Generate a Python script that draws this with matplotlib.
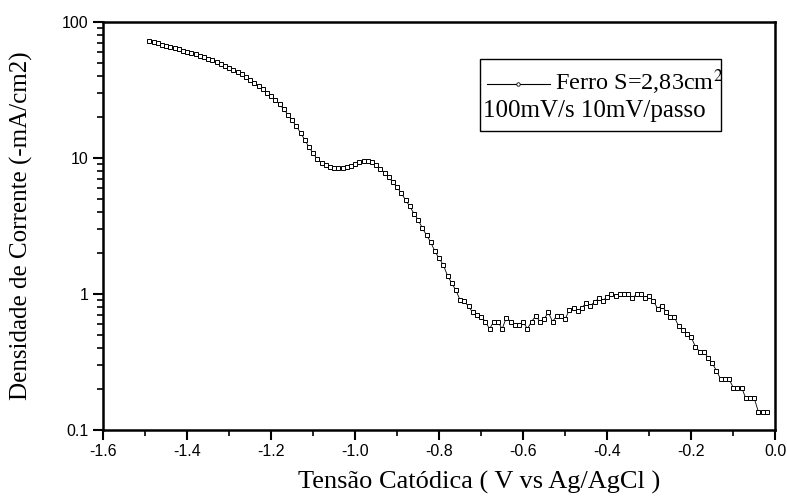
import numpy as np
import matplotlib
matplotlib.use("Agg")
import matplotlib.pyplot as plt
from matplotlib.ticker import FixedLocator, FixedFormatter, MultipleLocator, NullFormatter
from matplotlib.lines import Line2D
from matplotlib.patches import Rectangle

plt.rcParams['axes.unicode_minus'] = False

# potential grid: -1.49 V to -0.02 V, 10 mV per step
v_start, v_stop, v_step = -1.49, -0.02, 0.01
potential = np.round(np.arange(v_start, v_stop + v_step / 2, v_step), 2)

# current density (-mA/cm2)
current = [
    72.5, 71, 69.5, 68, 67, 65.5, 64.5, 63, 61.5, 60.5,
    59.5, 58, 56.5, 55, 53.5, 52, 50.5, 49, 47.5, 46,
    44.5, 43, 41.5, 39.5, 37.5, 35.5, 33.5, 32, 30, 28.5,
    26.8, 24.8, 22.8, 20.8, 18.9, 17.1, 15.3, 13.6, 12.0, 10.8,
    9.8, 9.2, 8.8, 8.5, 8.4, 8.4, 8.4, 8.5, 8.7, 9.0,
    9.3, 9.5, 9.5, 9.3, 8.8, 8.3, 7.8, 7.2, 6.6, 6.1,
    5.5, 4.9, 4.4, 3.9, 3.5, 3.05, 2.7, 2.4, 2.05, 1.83,
    1.63, 1.36, 1.2, 1.06, 0.90, 0.88, 0.81, 0.73, 0.70, 0.68,
    0.625, 0.553, 0.625, 0.625, 0.553, 0.67, 0.625, 0.59, 0.59, 0.625,
    0.553, 0.625, 0.69, 0.625, 0.655, 0.73, 0.625, 0.69, 0.69, 0.655,
    0.76, 0.79, 0.75, 0.79, 0.86, 0.82, 0.87, 0.93, 0.89, 0.955,
    0.995, 0.97, 0.995, 0.995, 0.995, 0.93, 0.995, 0.995, 0.93, 0.96,
    0.89, 0.78, 0.82, 0.74, 0.675, 0.675, 0.58, 0.54, 0.51, 0.48,
    0.41, 0.377, 0.377, 0.34, 0.31, 0.273, 0.237, 0.237, 0.237, 0.205,
    0.205, 0.205, 0.171, 0.171, 0.171, 0.136, 0.136, 0.136,
]

x_ticks = [-1.6, -1.4, -1.2, -1.0, -0.8, -0.6, -0.4, -0.2, 0.0]
x_labels = ['-1.6', '-1.4', '-1.2', '-1.0', '-0.8', '-0.6', '-0.4', '-0.2', '0.0']
y_ticks = [0.1, 1, 10, 100]
y_labels = ['0.1', '1', '10', '100']

serif = 'Liberation Serif'
sans = 'Liberation Sans'

fig = plt.figure(figsize=(7.87, 4.97), dpi=100)
ax = fig.add_axes([0.131, 0.135, 0.854, 0.821])

ax.plot(potential, current, color='black', lw=0.6, marker='s', ms=2.8,
        mfc='white', mec='black', mew=0.7)

ax.set_yscale('log')
ax.set_xlim(-1.6, 0.0)
ax.set_ylim(0.1, 100)

ax.xaxis.set_major_locator(FixedLocator(x_ticks))
ax.xaxis.set_major_formatter(FixedFormatter(x_labels))
ax.xaxis.set_minor_locator(MultipleLocator(0.1))
ax.yaxis.set_major_locator(FixedLocator(y_ticks))
ax.yaxis.set_major_formatter(FixedFormatter(y_labels))
ax.yaxis.set_minor_formatter(NullFormatter())

ax.tick_params(which='major', direction='out', length=7, width=1.5, labelsize=11.5)
ax.tick_params(which='minor', direction='out', length=4, width=1.2)
for lab in ax.get_xticklabels() + ax.get_yticklabels():
    lab.set_fontfamily(sans)
for s in ax.spines.values():
    s.set_linewidth(1.8)

ax.set_xlabel('Tensão Catódica ( V vs Ag/AgCl )', fontfamily=serif, fontsize=19)
ax.xaxis.set_label_coords(0.56, -0.1)
ax.set_ylabel('Densidade de Corrente (-mA/cm2)', fontfamily=serif, fontsize=18)
ax.yaxis.set_label_coords(-0.105, 0.5)

# legend box drawn by hand
fig.patches.append(Rectangle((480 / 787, 1 - 131 / 497), 241 / 787, 72 / 497,
                             transform=fig.transFigure, fill=False,
                             edgecolor='black', lw=1.0))
fig.lines.append(Line2D([487 / 787, 550 / 787], [1 - 84 / 497, 1 - 84 / 497],
                        transform=fig.transFigure, color='black', lw=0.8))
fig.lines.append(Line2D([518 / 787], [1 - 84 / 497], transform=fig.transFigure,
                        marker='o', ms=2.5, mfc='white', mec='black', mew=0.6))
fig.text(555 / 787, 1 - 90 / 497, 'Ferro S=2,83cm$^2$', fontfamily=serif,
         fontsize=17.5, va='baseline', math_fontfamily='stix')
fig.text(483 / 787, 1 - 117 / 497, '100mV/s 10mV/passo', fontfamily=serif,
         fontsize=18, va='baseline')

fig.savefig('out.png', dpi=100)
